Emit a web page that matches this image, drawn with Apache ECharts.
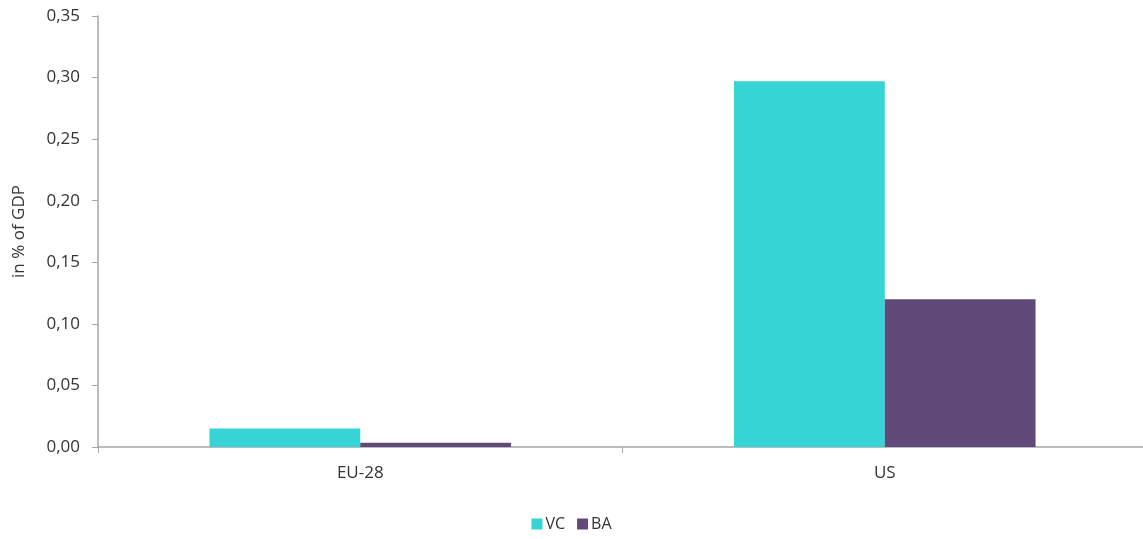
<!DOCTYPE html>
<html>
<head>
<meta charset="utf-8">
<script src="https://cdn.jsdelivr.net/npm/echarts@6/dist/echarts.min.js"></script>
<style>html,body{margin:0;padding:0;background:#fff}#c{width:1143px;height:539px}</style>
</head>
<body>
<div id="c"></div>
<script>
var categories = ['EU-28', 'US'];
var vcValues = [0.015, 0.297];
var baValues = [0.0035, 0.120];
var yTicks = {min: 0, max: 0.35, interval: 0.05};

var chart = echarts.init(document.getElementById('c'));
var txt = '#333333';
var axisCol = '#A6A6A6';
chart.setOption({
  animation: false,
  textStyle: {fontFamily: 'Open Sans'},
  grid: {left: 98, right: -4, top: 16, bottom: 92, outerBoundsMode: 'none', containLabel: false},
  legend: {
    bottom: 2, left: 'center', itemWidth: 11, itemHeight: 11, itemGap: 12,
    icon: 'rect',
    textStyle: {color: txt, fontSize: 16, fontFamily: 'Open Sans', padding: [0,0,0,-2]},
    data: ['VC', 'BA']
  },
  xAxis: {
    type: 'category', data: categories,
    axisLine: {lineStyle: {color: axisCol, width: 1.5}},
    axisTick: {show: true, length: 6, alignWithLabel: false, lineStyle: {color: axisCol}},
    axisLabel: {color: txt, fontSize: 17, margin: 18}
  },
  yAxis: {
    type: 'value', min: yTicks.min, max: yTicks.max, interval: yTicks.interval,
    name: 'in % of GDP', nameLocation: 'middle', nameRotate: 90, nameGap: 70,
    nameTextStyle: {color: txt, fontSize: 17},
    splitLine: {show: false},
    axisLine: {show: true, lineStyle: {color: axisCol, width: 1.5}},
    axisTick: {show: true, length: 6, lineStyle: {color: axisCol}},
    axisLabel: {color: txt, fontSize: 17, margin: 18, formatter: function(v){return v.toFixed(2).replace('.', ',');}}
  },
  series: [
    {name: 'VC', type: 'bar', data: vcValues, barGap: '0%', barCategoryGap: '42.5%', itemStyle: {color: '#37D4D6'}},
    {name: 'BA', type: 'bar', data: baValues, itemStyle: {color: '#604A7A'}}
  ]
});
</script>
</body>
</html>
